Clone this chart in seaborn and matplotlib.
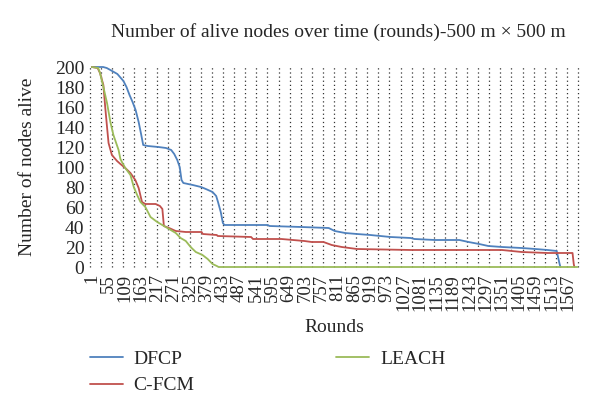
import numpy as np
import pandas as pd
import matplotlib
matplotlib.use("Agg")
import matplotlib.pyplot as plt
import seaborn as sns

# ---- data ----
dfcp_rounds = [1, 38, 50, 62, 85, 105, 115, 125, 135, 145, 155, 163, 170, 185, 220, 245,
               262, 272, 282, 290, 296, 302, 333, 360, 376, 398, 410, 416, 425, 432, 437,
               580, 585, 690, 780, 800, 834, 873, 917, 983, 1050, 1062, 1130, 1210, 1240,
               1275, 1305, 1350, 1415, 1460, 1500, 1530, 1538, 1542]
dfcp_alive = [200, 200, 199, 197, 193, 186, 180, 172, 165, 157, 145, 133, 122, 121, 120, 119,
              117, 113, 107, 100, 87, 84, 82, 80, 78, 75, 71, 65, 55, 44, 42,
              42, 41, 40, 39, 36, 34, 33, 32, 30, 29, 28, 27, 27, 25,
              23, 21, 20, 19, 18, 17, 16, 5, 0]

cfcm_rounds = [1, 20, 28, 39, 45, 51, 56, 67, 84, 95, 111, 128, 144, 155, 166, 177, 211,
               225, 233, 238, 255, 277, 310, 362, 366, 412, 415, 525, 531, 625, 700, 724,
               763, 790, 823, 873, 1050, 1350, 1415, 1500, 1582, 1586, 1588]
cfcm_alive = [200, 199, 194, 182, 160, 140, 124, 112, 106, 103, 99, 94, 87, 79, 65, 63, 63,
              61, 58, 41, 39, 36, 35, 35, 33, 32, 31, 30, 28, 28, 26, 25,
              25, 22, 20, 18, 17, 17, 15, 14, 14, 3, 0]

leach_rounds = [1, 22, 28, 39, 51, 62, 72, 89, 95, 100, 111, 128, 139, 150, 161, 177, 194,
                216, 244, 277, 293, 310, 326, 343, 365, 382, 398, 412, 418, 1598]
leach_alive = [200, 199, 194, 180, 164, 145, 132, 117, 108, 105, 99, 92, 80, 72, 65, 60, 50,
               45, 40, 34, 29, 26, 20, 15, 12, 8, 3, 1, 0, 0]

series_names = ["DFCP", "C-FCM", "LEACH"]
series_colors = ["#4F81BD", "#C0504D", "#9BBB59"]
tick_rounds = list(range(1, 1568, 54))
y_ticks = list(range(0, 201, 20))

frames = []
for name, r, v in [("DFCP", dfcp_rounds, dfcp_alive),
                   ("C-FCM", cfcm_rounds, cfcm_alive),
                   ("LEACH", leach_rounds, leach_alive)]:
    frames.append(pd.DataFrame({"Rounds": r, "Alive": v, "Protocol": name}))
df = pd.concat(frames, ignore_index=True)

sns.set_theme(style="white")
plt.rcParams["font.family"] = ["Liberation Serif", "DejaVu Serif"]

fig = plt.figure(figsize=(6.0, 4.16), dpi=100)
ax = fig.add_axes([90 / 600, 1 - 267 / 416, 488 / 600, 200 / 416])

xlo, xhi = -5, 1600
# dotted vertical gridlines
for gx in np.linspace(xlo, xhi, 45):
    ax.axvline(gx, color="#333333", linestyle=(0, (1, 2.3)), linewidth=0.9, zorder=0)

sns.lineplot(data=df, x="Rounds", y="Alive", hue="Protocol", hue_order=series_names,
             palette=dict(zip(series_names, series_colors)), estimator=None, sort=False,
             linewidth=1.3, ax=ax, legend=True)
for ln in ax.get_lines():
    ln.set_clip_on(False)

handles, labels = ax.get_legend_handles_labels()
ax.get_legend().remove()

ax.set_xlim(xlo, xhi)
ax.set_ylim(0, 200)
ax.set_yticks(y_ticks)
ax.set_yticklabels([str(t) for t in y_ticks], fontsize=14)
ax.set_xticks(tick_rounds)
ax.set_xticklabels([str(t) for t in tick_rounds], rotation=90, fontsize=13.5)
ax.tick_params(axis="y", length=0, pad=4)
ax.tick_params(axis="x", length=0, pad=5)
for s in ax.spines.values():
    s.set_visible(False)
ax.grid(False)

ax.set_xlabel("Rounds", fontsize=14)
ax.xaxis.set_label_coords(0.5, -0.26)
ax.set_ylabel("Number of nodes alive", fontsize=14)
ax.yaxis.set_label_coords(-0.11, 0.5)

fig.text(338 / 600, 1 - 32 / 416,
         "Number of alive nodes over time (rounds)-500 m \u00d7 500 m",
         ha="center", va="center", fontsize=14)

fig.legend(handles, labels, loc="upper left", bbox_to_anchor=(72 / 600, 1 - 333 / 416),
           ncol=2, frameon=False, fontsize=14, handlelength=1.7, handletextpad=0.55,
           columnspacing=7.3, labelspacing=0.45)

fig.savefig("out.png", dpi=100)
